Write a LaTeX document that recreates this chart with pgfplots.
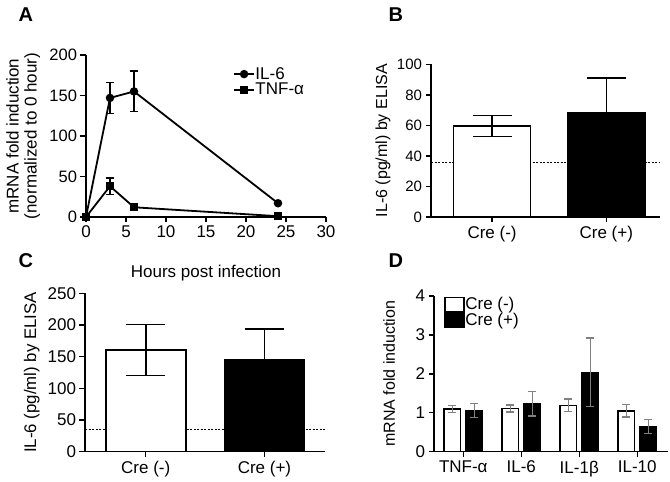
\documentclass[border=0pt]{standalone}
\usepackage{pgfplots}
\pgfplotsset{compat=1.18}
\usepackage{fontspec}
\setmainfont{Liberation Sans}

\pgfplotsset{
  gp/.style={
    scale only axis,
    axis x line*=bottom,
    axis y line*=left,
    tick align=outside,
    major tick length=5.5pt,
    every tick/.style={black, line width=1.4pt},
    axis line style={line width=1.6pt},
    tick label style={font=\fontsize{17}{19}\selectfont},
    label style={font=\fontsize{16.5}{18}\selectfont},
    /pgf/number format/assume math mode=true,
    clip=false,
    ymin=0,
  },
  bigerr/.style={error bars/.cd, y dir=both, y explicit,
    error bar style={black, line width=1.6pt},
    error mark options={black, line width=1.6pt, mark size=19.5pt, rotate=90}},
  smallerr/.style={error bars/.cd, y dir=both, y explicit,
    error bar style={gray, line width=1.4pt},
    error mark options={gray, line width=1.4pt, mark size=4pt, rotate=90}},
  smallerrA/.style={error bars/.cd, y dir=both, y explicit,
    error bar style={black, line width=1.4pt},
    error mark options={black, line width=1.4pt, mark size=4pt, rotate=90}},
}

\begin{document}
\begin{tikzpicture}
\useasboundingbox (0pt,0pt) rectangle (670pt,482pt);

% ---------- A ----------
\begin{axis}[gp,
  at={(86pt,265pt)}, anchor=south west, width=240pt, height=162pt,
  xmin=0, xmax=30, ymax=200,
  xtick={0,5,...,30}, ytick={0,50,...,200},
  yticklabel style={font=\fontsize{16.5}{18}\selectfont},
  xlabel={Hours post infection},
  xlabel style={at={(axis description cs:0.5,-0.345)}, anchor=center, font=\fontsize{17}{19}\selectfont},
  ylabel={mRNA fold induction\\(normalized to 0 hour)},
  ylabel style={align=center, at={(axis description cs:-0.262,0.5)}, anchor=center,
    font=\fontsize{17}{18}\selectfont},
  legend style={draw=none, fill=none, at={(axis description cs:0.6,0.94)}, anchor=north west,
    font=\fontsize{17}{18}\selectfont, row sep=1.5pt, nodes={inner sep=0.5pt}},
  legend cell align=left,
  legend image code/.code={\draw[mark repeat=2,mark phase=2,#1] plot coordinates {(0pt,0pt) (10pt,0pt) (20pt,0pt)};},
]
\addplot[black, line width=1.8pt, mark=*, mark size=3.3pt, smallerrA]
  coordinates {(0,0) +- (0,0) (3,147) +- (0,19) (6,155) +- (0,25) (24,17) +- (0,0)};
\addlegendentry{IL-6}
\addplot[black, line width=1.8pt, mark=square*, mark size=3.2pt, smallerrA]
  coordinates {(0,0) +- (0,0) (3,38) +- (0,10) (6,12) +- (0,0) (24,1) +- (0,0)};
\addlegendentry{TNF-α}
\end{axis}

% ---------- B ----------
\begin{axis}[gp,
  at={(431pt,265pt)}, anchor=south west, width=229pt, height=152.7pt,
  xmin=-0.535, xmax=1.47, ymax=100,
  xtick={0,1}, xticklabels={Cre (-), Cre (+)},
  ytick={0,20,...,100},
  yticklabel style={font=\fontsize{15}{17}\selectfont},
  ylabel={IL-6 (pg/ml) by ELISA},
  ylabel style={at={(axis description cs:-0.21,0.5)}, anchor=center, font=\fontsize{16}{18}\selectfont},
]
\addplot[black, line width=1pt, dash pattern=on 2pt off 1.5pt] coordinates {(-0.535,35.8) (1.47,35.8)};
\addplot[ybar, bar width=77pt, bar shift=0pt, draw=black, fill=white, line width=1.6pt, bigerr]
  coordinates {(0,59.6) +- (0,6.9)};
\addplot[ybar, bar width=77pt, bar shift=0pt, draw=black, fill=black, line width=1.6pt, bigerr]
  coordinates {(1,68.1) +- (0,22.8)};
\end{axis}

% ---------- C ----------
\begin{axis}[gp,
  at={(85pt,30.3pt)}, anchor=south west, width=240pt, height=158.4pt,
  xmin=-0.512, xmax=1.51, ymax=250,
  xtick={0,1}, xticklabels={Cre (-), Cre (+)},
  ytick={0,50,...,250},
  ylabel={IL-6 (pg/ml) by ELISA},
  ylabel style={at={(axis description cs:-0.222,0.5)}, anchor=center, font=\fontsize{16.8}{18}\selectfont},
]
\addplot[black, line width=1pt, dash pattern=on 2pt off 1.5pt] coordinates {(-0.512,34.7) (1.51,34.7)};
\addplot[ybar, bar width=80pt, bar shift=0pt, draw=black, fill=white, line width=1.6pt, bigerr]
  coordinates {(0,160.5) +- (0,40.2)};
\addplot[ybar, bar width=80pt, bar shift=0pt, draw=black, fill=black, line width=1.6pt, bigerr]
  coordinates {(1,145.3) +- (0,48.5)};
\end{axis}

% ---------- D ----------
% white bars sit 0.19 left of each tick, black bars 0.19 right
\begin{axis}[gp,
  at={(434pt,30.3pt)}, anchor=south west, width=234pt, height=155.7pt,
  xmin=-0.505, xmax=3.53, ymax=4,
  xtick={0,1,2,3}, xticklabels={TNF-α, IL-6, IL-1β, IL-10},
  ytick={0,1,...,4},
  ylabel={mRNA fold induction},
  ylabel style={at={(axis description cs:-0.192,0.5)}, anchor=center, font=\fontsize{16}{18}\selectfont},
  legend style={draw=none, fill=none, at={(axis description cs:0.03,1.01)}, anchor=north west,
    font=\fontsize{17}{18}\selectfont, row sep=0pt, nodes={inner sep=0.5pt}},
  legend cell align=left,
  legend image code/.code={\draw[#1, line width=1.6pt] (0pt,-7pt) rectangle (19pt,7pt);},
]
\addplot[ybar, bar width=16.5pt, bar shift=0pt, draw=black, fill=white, line width=1.5pt, smallerr]
  coordinates {(-0.19,1.10) +- (0,0.09) (0.81,1.11) +- (0,0.09) (1.81,1.19) +- (0,0.16) (2.81,1.05) +- (0,0.16)};
\addlegendentry{Cre (-)}
\addplot[ybar, bar width=16.5pt, bar shift=0pt, draw=black, fill=black, line width=1.5pt, smallerr]
  coordinates {(0.19,1.06) +- (0,0.18) (1.19,1.23) +- (0,0.31) (2.19,2.04) +- (0,0.88) (3.19,0.65) +- (0,0.18)};
\addlegendentry{Cre (+)}
\end{axis}

% panel letters
\node[anchor=west, font=\fontsize{20}{22}\selectfont\bfseries] at (15pt,467pt) {A};
\node[anchor=west, font=\fontsize{20}{22}\selectfont\bfseries] at (385pt,467pt) {B};
\node[anchor=west, font=\fontsize{20}{22}\selectfont\bfseries] at (15pt,221pt) {C};
\node[anchor=west, font=\fontsize{20}{22}\selectfont\bfseries] at (385pt,221pt) {D};
\end{tikzpicture}
\end{document}
